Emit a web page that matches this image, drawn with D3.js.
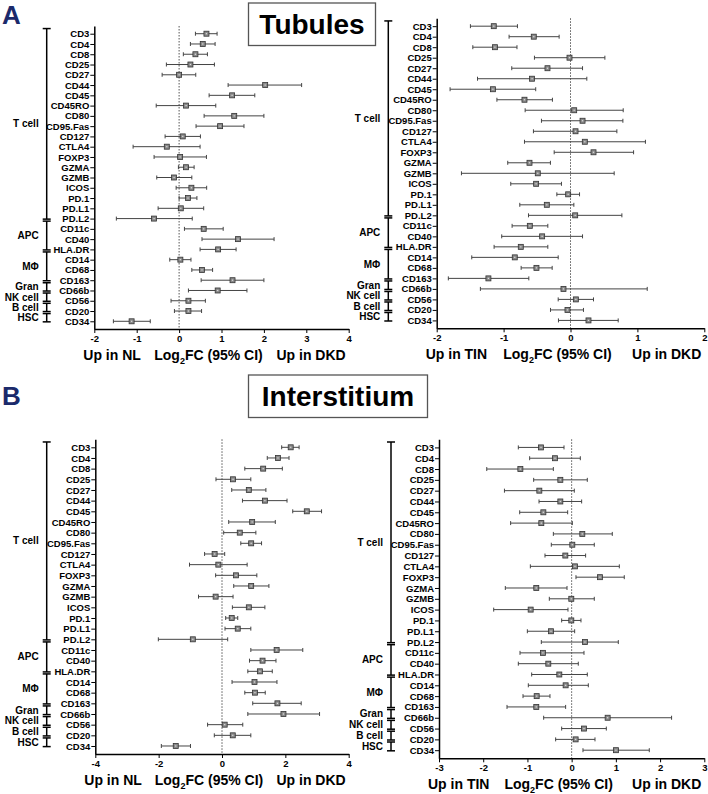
<!DOCTYPE html>
<html>
<head>
<meta charset="utf-8">
<script src="https://cdn.jsdelivr.net/npm/d3@7"></script>
<style>
  body { margin: 0; background: #fff; }
  svg text { font-family: "Liberation Sans", Arial, sans-serif; font-weight: bold; }
</style>
</head>
<body>
<svg id="fig" width="708" height="794"></svg>
<script>
// markers, top to bottom (same order in all four plots)
var MARKERS = ['CD3', 'CD4', 'CD8', 'CD25', 'CD27', 'CD44', 'CD45', 'CD45RO', 'CD80', 'CD95.Fas',
  'CD127', 'CTLA4', 'FOXP3', 'GZMA', 'GZMB', 'ICOS', 'PD.1', 'PD.L1', 'PD.L2',
  'CD11c', 'CD40', 'HLA.DR', 'CD14', 'CD68', 'CD163', 'CD66b', 'CD56', 'CD20', 'CD34'];
var GROUPS = ['T cell', 'APC', 'M\u03A6', 'Gran', 'NK cell', 'B cell', 'HSC'];
var GROUP_SIZES = [19, 3, 3, 1, 1, 1, 1];

// A - tubules, DKD vs NL
var TUB_NL_EST = [0.645, 0.558, 0.385, 0.267, 0.0, 2.03, 1.25, 0.165, 1.30, 0.967, 0.086, -0.29, 0.024, 0.165, -0.118, 0.29, 0.21, 0.04, -0.59, 0.58, 1.39, 0.92, 0.03, 0.54, 1.26, 0.91, 0.22, 0.22, -1.12];
var TUB_NL_LO = [0.385, 0.267, 0.10, -0.30, -0.40, 1.156, 0.708, -0.54, 0.59, 0.40, -0.33, -1.085, -0.59, -0.016, -0.527, -0.07, 0.0, -0.495, -1.48, 0.126, 0.54, 0.495, -0.22, 0.30, 0.52, 0.22, -0.19, -0.11, -1.55];
var TUB_NL_HI = [0.896, 0.849, 0.668, 0.833, 0.393, 2.89, 1.785, 0.865, 2.0, 1.53, 0.503, 0.495, 0.645, 0.354, 0.30, 0.65, 0.42, 0.58, 0.31, 1.04, 2.24, 1.344, 0.28, 0.79, 2.0, 1.60, 0.62, 0.53, -0.68];

// A - tubules, DKD vs TIN
var TUB_TIN_EST = [-1.147, -0.549, -1.13, -0.015, -0.344, -0.574, -1.16, -0.688, 0.055, 0.18, 0.075, 0.214, 0.344, -0.613, -0.489, -0.514, -0.035, -0.354, 0.07, -0.608, -0.424, -0.743, -0.833, -0.509, -1.227, -0.105, 0.08, -0.045, 0.269];
var TUB_TIN_LO = [-1.496, -0.918, -1.46, -0.539, -0.878, -1.39, -1.80, -1.10, -0.678, -0.434, -0.554, -0.688, -0.244, -0.938, -1.63, -0.893, -0.204, -0.758, -0.628, -0.873, -1.028, -1.142, -1.476, -0.738, -1.826, -1.347, -0.184, -0.299, -0.18];
var TUB_TIN_HI = [-0.793, -0.17, -0.80, 0.514, 0.18, 0.244, -0.52, -0.27, 0.788, 0.783, 0.693, 1.12, 0.943, -0.30, 0.653, -0.135, 0.135, 0.05, 0.768, -0.339, 0.18, -0.339, -0.184, -0.274, -0.623, 1.147, 0.344, 0.194, 0.713];

// B - interstitium, DKD vs NL
var INT_NL_EST = [2.169, 1.767, 1.30, 0.349, 0.847, 1.354, 2.677, 0.952, 0.561, 0.921, -0.233, -0.116, 0.444, 0.921, -0.201, 0.847, 0.307, 0.497, -0.921, 1.725, 1.28, 1.196, 1.026, 1.04, 1.75, 1.94, 0.085, 0.34, -1.46];
var INT_NL_LO = [1.884, 1.429, 0.72, -0.19, 0.307, 0.646, 2.233, 0.212, 0.053, 0.593, -0.55, -1.026, -0.201, 0.37, -0.741, 0.328, 0.116, 0.095, -2.01, 0.91, 0.868, 0.815, 0.317, 0.72, 0.97, 0.815, -0.455, -0.243, -1.915];
var INT_NL_HI = [2.434, 2.116, 1.905, 0.91, 1.386, 2.053, 3.143, 1.683, 1.069, 1.249, 0.085, 0.794, 1.10, 1.481, 0.349, 1.354, 0.497, 0.91, 0.18, 2.55, 1.704, 1.587, 1.735, 1.365, 2.50, 3.08, 0.656, 0.91, -0.995];

// B - interstitium, DKD vs TIN
var INT_TIN_EST = [-0.693, -0.377, -1.16, -0.256, -0.731, -0.256, -0.64, -0.686, 0.241, 0.015, -0.143, 0.075, 0.64, -0.80, -0.008, -0.927, -0.008, -0.467, 0.30, -0.65, -0.528, -0.279, -0.136, -0.791, -0.80, 0.814, 0.279, 0.09, 1.002];
var INT_TIN_LO = [-1.206, -0.95, -1.92, -0.859, -1.52, -0.738, -1.175, -1.38, -0.414, -0.46, -0.603, -0.934, 0.098, -1.50, -0.505, -1.763, -0.226, -1.002, -0.686, -1.168, -1.206, -0.904, -0.98, -1.10, -1.462, -0.633, -0.226, -0.362, 0.256];
var INT_TIN_HI = [-0.173, 0.196, -0.414, 0.354, 0.06, 0.226, -0.09, 0.015, 0.919, 0.512, 0.316, 1.078, 1.19, -0.105, 0.512, -0.083, 0.211, 0.068, 1.055, 0.279, 0.15, 0.354, 0.377, -0.49, -0.136, 2.26, 0.784, 0.528, 1.756];

var TICKS_TUB_NL = [-2, -1, 0, 1, 2, 3, 4];
var TICKS_TUB_TIN = [-2, -1, 0, 1, 2];
var TICKS_INT_NL = [-4, -2, 0, 2, 4];
var TICKS_INT_TIN = [-3, -2, -1, 0, 1, 2, 3];

var svg = d3.select('#fig');

function drawForest(cfg)
{
  var g = svg.append('g').classed('forest', true);
  var x = d3.scaleLinear()
    .domain([cfg.ticks[0], cfg.ticks[cfg.ticks.length - 1]])
    .range([cfg.left, cfg.right]);
  var y = d3.scalePoint().domain(MARKERS).range([cfg.top, cfg.bottom]).padding(0.75);
  var step = y.step();

  // dotted line at 0
  g.append('line')
    .attr('x1', x(0)).attr('x2', x(0))
    .attr('y1', cfg.top).attr('y2', cfg.bottom)
    .style('stroke', '#555').style('stroke-width', 1)
    .style('stroke-dasharray', '1.5,1.5');

  var rows = MARKERS.map(function(m, i) {
    return {'name': m, 'est': cfg.est[i], 'lo': cfg.lo[i], 'hi': cfg.hi[i]};
  });
  var capH = 2;
  var rowG = g.append('g').selectAll('g').data(rows).enter().append('g')
    .attr('transform', function(d) { return 'translate(0,' + y(d.name) + ')'; });
  rowG.append('line')
    .attr('x1', function(d) { return x(d.lo); })
    .attr('x2', function(d) { return x(d.hi); })
    .style('stroke', '#444').style('stroke-width', 1);
  rowG.append('line') // low cap
    .attr('x1', function(d) { return x(d.lo); })
    .attr('x2', function(d) { return x(d.lo); })
    .attr('y1', -capH).attr('y2', capH)
    .style('stroke', '#444').style('stroke-width', 1);
  rowG.append('line') // high cap
    .attr('x1', function(d) { return x(d.hi); })
    .attr('x2', function(d) { return x(d.hi); })
    .attr('y1', -capH).attr('y2', capH)
    .style('stroke', '#444').style('stroke-width', 1);
  rowG.append('rect')
    .attr('x', function(d) { return x(d.est) - 2.5; })
    .attr('y', -2.5).attr('width', 5).attr('height', 5)
    .style('fill', '#8a8a8a').style('stroke', '#333').style('stroke-width', 0.8);
  rowG.append('rect')
    .attr('x', function(d) { return x(d.est) - 0.6; })
    .attr('y', -0.6).attr('width', 1.2).attr('height', 1.2)
    .style('fill', '#ddd');

  // axes (plain hyphen minus like the original)
  var xAxis = d3.axisBottom(x).tickValues(cfg.ticks).tickSize(4).tickSizeOuter(0).tickPadding(2)
    .tickFormat(function(d) { return String(d); });
  var gx = g.append('g').attr('transform', 'translate(0,' + cfg.bottom + ')').call(xAxis);
  var yAxis = d3.axisLeft(y).tickSize(4).tickSizeOuter(0).tickPadding(1);
  var gy = g.append('g').attr('transform', 'translate(' + cfg.left + ',0)').call(yAxis);
  [gx, gy].forEach(function(a) {
    a.select('.domain').style('stroke', '#000').style('stroke-width', 1.5);
    a.selectAll('.tick line').style('stroke', '#000').style('stroke-width', 1);
    a.selectAll('.tick text').style('font-size', '9.5px').style('fill', '#000')
      .style('font-family', '"Liberation Sans", Arial, sans-serif').style('font-weight', 'bold');
  });

  // group brackets (a bit above the rows, like the original)
  var off = -0.35 * step;
  var iStart = 0;
  GROUPS.forEach(function(name, gi) {
    var iEnd = iStart + GROUP_SIZES[gi] - 1;
    var y0 = y(MARKERS[iStart]) - step / 2 + (gi === 0 ? 0 : off + 1);
    var y1 = y(MARKERS[iEnd]) + step / 2 + off - 1;
    var bg = g.append('g').classed('bracket', true);
    bg.append('line').attr('x1', cfg.bracketX).attr('x2', cfg.bracketX)
      .attr('y1', y0).attr('y2', y1);
    bg.append('line').attr('x1', cfg.bracketX - 4).attr('x2', cfg.bracketX + 4)
      .attr('y1', y0).attr('y2', y0);
    bg.append('line').attr('x1', cfg.bracketX - 4).attr('x2', cfg.bracketX + 4)
      .attr('y1', y1).attr('y2', y1);
    bg.selectAll('line').style('stroke', '#000').style('stroke-width', 1.5);
    g.append('text')
      .attr('x', cfg.bracketX - 8)
      .attr('y', (y0 + y1) / 2)
      .attr('text-anchor', 'end')
      .attr('dominant-baseline', 'central')
      .style('font-size', '10px')
      .text(name);
    iStart = iEnd + 1;
  });

  // x title
  var ty = cfg.bottom + 31;
  g.append('text').attr('x', cfg.left - 11).attr('y', ty)
    .style('font-size', '14px').text(cfg.leftLabel);
  var t = g.append('text').attr('x', (cfg.left + cfg.right) / 2 - 13).attr('y', ty)
    .attr('text-anchor', 'middle').style('font-size', '14px');
  t.append('tspan').text('Log');
  t.append('tspan').attr('dy', 4).style('font-size', '9px').text('2');
  t.append('tspan').attr('dy', -4).text('FC (95% CI)');
  g.append('text').attr('x', cfg.right - 3).attr('y', ty)
    .attr('text-anchor', 'end').style('font-size', '14px').text('Up in DKD');
}

function drawTitle(label, yTop, boxW, panelLetter, letterY)
{
  svg.append('rect').attr('x', 248.5).attr('y', yTop).attr('width', boxW).attr('height', 42.5)
    .style('fill', 'none').style('stroke', '#555').style('stroke-width', 1.3);
  svg.append('text').attr('x', 248.5 + boxW / 2).attr('y', yTop + 31)
    .attr('text-anchor', 'middle').style('font-size', '28px').style('fill', '#000')
    .text(label);
  svg.append('text').attr('x', 2).attr('y', letterY)
    .style('font-size', '26px').style('fill', '#1b2a6b').text(panelLetter);
}

function main()
{
  drawTitle('Tubules', 3, 127, 'A', 24);
  drawTitle('Interstitium', 375, 179, 'B', 405);

  drawForest({'left': 94.3, 'right': 348.7, 'top': 26, 'bottom': 329, 'bracketX': 46.7,
    'ticks': TICKS_TUB_NL, 'est': TUB_NL_EST, 'lo': TUB_NL_LO, 'hi': TUB_NL_HI, 'leftLabel': 'Up in NL'});
  drawForest({'left': 436.7, 'right': 704.3, 'top': 18.3, 'bottom': 328.3, 'bracketX': 388.3,
    'ticks': TICKS_TUB_TIN, 'est': TUB_TIN_EST, 'lo': TUB_TIN_LO, 'hi': TUB_TIN_HI, 'leftLabel': 'Up in TIN'});
  drawForest({'left': 95.3, 'right': 348.7, 'top': 439.3, 'bottom': 754, 'bracketX': 46.7,
    'ticks': TICKS_INT_NL, 'est': INT_NL_EST, 'lo': INT_NL_LO, 'hi': INT_NL_HI, 'leftLabel': 'Up in NL'});
  drawForest({'left': 439, 'right': 704.3, 'top': 439.3, 'bottom': 758.3, 'bracketX': 391,
    'ticks': TICKS_INT_TIN, 'est': INT_TIN_EST, 'lo': INT_TIN_LO, 'hi': INT_TIN_HI, 'leftLabel': 'Up in TIN'});
}

main();
</script>
</body>
</html>
